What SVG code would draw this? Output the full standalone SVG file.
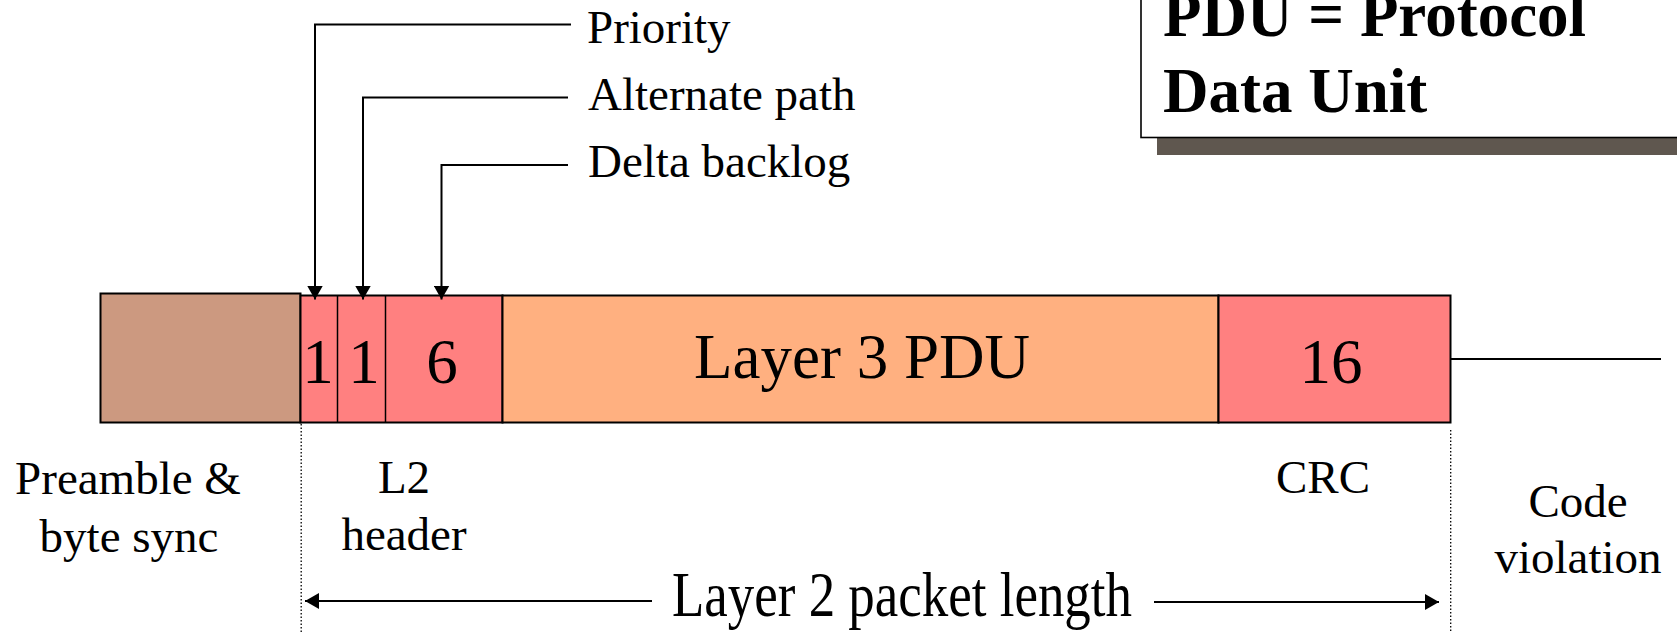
<svg xmlns="http://www.w3.org/2000/svg" width="1677" height="632" viewBox="0 0 1677 632">
  <defs>
    <style>
      text { font-family: "Liberation Serif", "Times New Roman", serif; fill: #000; }
      .lbl { font-size: 47px; }
      .big { font-size: 63px; }
      .bold { font-size: 63px; font-weight: bold; }
      .mid { text-anchor: middle; }
      .box { stroke: #000; stroke-width: 2; }
      .div { stroke: #000; stroke-width: 1.5; fill: none; }
      .wire { stroke: #000; stroke-width: 2; fill: none; }
      .dots { stroke: #000; stroke-width: 1.3; stroke-dasharray: 1.5 2; fill: none; }
    </style>
    <marker id="arrow" markerUnits="userSpaceOnUse" markerWidth="16" markerHeight="16" refX="14" refY="8" orient="auto">
      <path d="M0,0 L14,8 L0,16 z" fill="#000"/>
    </marker>
  </defs>

  <rect width="1677" height="632" fill="#fff"/>

  <!-- legend box with drop shadow -->
  <g id="legend">
    <rect x="1157" y="137.5" width="530" height="17.5" fill="#5f574f"/>
    <rect x="1141" y="-10" width="550" height="147.5" fill="#fff" stroke="#000" stroke-width="1.6"/>
    <text class="bold" x="1163" y="36">PDU = Protocol</text>
    <text class="bold" x="1163" y="112">Data Unit</text>
  </g>

  <!-- frame fields -->
  <g id="preamble">
    <rect class="box" x="100.5" y="293.5" width="200" height="129" fill="#cc9980"/>
  </g>
  <g id="l2-header">
    <rect class="box" x="300.5" y="295.5" width="202" height="127" fill="#ff8080"/>
    <line class="div" x1="337.5" y1="295.5" x2="337.5" y2="422.5"/>
    <line class="div" x1="385.5" y1="295.5" x2="385.5" y2="422.5"/>
    <text class="big mid" x="318" y="382.5">1</text>
    <text class="big mid" x="364" y="382.5">1</text>
    <text class="big mid" x="442" y="382.5">6</text>
  </g>
  <g id="layer3-pdu">
    <rect class="box" x="502.5" y="295.5" width="716" height="127" fill="#ffb080"/>
    <text class="big mid" x="862" y="377.5">Layer 3 PDU</text>
  </g>
  <g id="crc">
    <rect class="box" x="1218.5" y="295.5" width="232" height="127" fill="#ff8080"/>
    <text class="big mid" x="1331" y="382.5">16</text>
  </g>

  <!-- field labels -->
  <g id="labels">
    <text class="lbl" x="587" y="42.5">Priority</text>
    <text class="lbl" x="588" y="110">Alternate path</text>
    <text class="lbl" x="588" y="176.5">Delta backlog</text>
    <text class="lbl mid" x="128" y="494">Preamble &amp;</text>
    <text class="lbl mid" x="129" y="551.5">byte sync</text>
    <text class="lbl mid" x="404" y="492.5">L2</text>
    <text class="lbl mid" x="404" y="550">header</text>
    <text class="lbl mid" x="1323" y="492.5">CRC</text>
    <text class="lbl mid" x="1578" y="516.5">Code</text>
    <text class="lbl mid" x="1578" y="573">violation</text>
    <text class="big" x="672" y="616" textLength="460" lengthAdjust="spacingAndGlyphs">Layer 2 packet length</text>
  </g>

  <!-- connectors -->
  <g id="connectors">
    <path class="wire" d="M571,24.5 H315 V299.5" marker-end="url(#arrow)"/>
    <path class="wire" d="M568,97.5 H363 V299.5" marker-end="url(#arrow)"/>
    <path class="wire" d="M568,165 H441.5 V299.5" marker-end="url(#arrow)"/>
    <line class="wire" x1="1451" y1="359" x2="1661" y2="359"/>
    <line class="dots" x1="301.2" y1="424" x2="301.2" y2="632"/>
    <line class="dots" x1="1450.7" y1="430" x2="1450.7" y2="632"/>
    <line class="wire" x1="652" y1="601" x2="305" y2="601" marker-end="url(#arrow)"/>
    <line class="wire" x1="1154" y1="602" x2="1439" y2="602" marker-end="url(#arrow)"/>
  </g>
</svg>
